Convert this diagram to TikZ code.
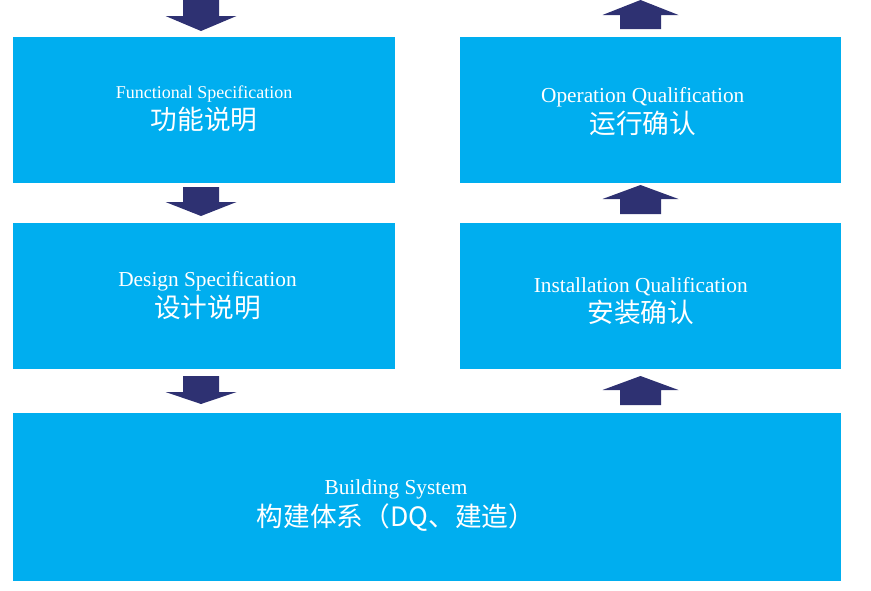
\documentclass[tikz,border=0pt]{standalone}
\usepackage{fontspec}
\setmainfont{Liberation Serif}
\newfontfamily\cjk{Noto Sans CJK SC}
\usetikzlibrary{calc,positioning}
\definecolor{boxblue}{HTML}{00AEEF}
\definecolor{arrownavy}{HTML}{2E3172}
\def\px{0.75pt}
\newcommand{\arrdown}[4]% #1=center x, #2=shaft top, #3=head base
{\fill[arrownavy] ({#1-18},#2) -- ({#1+18},#2) -- ({#1+18},#3) -- ({#1+35.5},#3)% #4=tip
  -- (#1,#4) -- ({#1-35.5},#3) -- ({#1-18},#3) -- cycle;}
\newcommand{\arrup}[4]% #1=center x, #2=tip, #3=head base
{\fill[arrownavy] (#1,#2) -- ({#1+38},#3) -- ({#1+20.5},#3) -- ({#1+20.5},#4)% #4=shaft bottom
  -- ({#1-20.5},#4) -- ({#1-20.5},#3) -- ({#1-38},#3) -- cycle;}
\begin{document}
\begin{tikzpicture}[x=0.75pt,y=-0.75pt,
    box/.style={fill=boxblue,inner sep=0pt,minimum width=382*\px,minimum height=146*\px},
    txt/.style={text=white,align=center,inner sep=0pt}]
    \useasboundingbox (0,0) rectangle (871,590);
    % boxes
    \node[box] (fs) at (204,110) {};
    \node[box,below=29.25pt of fs] (ds) {};
    \node[box,minimum width=381*\px,right=48.5pt of fs] (oq) {};
    \node[box,minimum width=381*\px,below=29.25pt of oq] (iq) {};
    \node[box,minimum width=828*\px,minimum height=168*\px,
        below=33pt of ds.south west,anchor=north west] (bs) {};
    % texts
    \node[txt] (fs-txt) at ($(fs.center)+(0,-1)$)
        {\fontsize{13.5}{16}\selectfont Functional Specification\\[3pt]
         \cjk\fontsize{20}{22}\selectfont 功能说明};
    \node[txt] (ds-txt) at ($(ds.center)+(3.5,0.5)$)
        {\fontsize{16}{18}\selectfont Design Specification\\[2pt]
         \cjk\fontsize{20}{22}\selectfont 设计说明};
    \node[txt] (oq-txt) at ($(oq.center)+(-8,2)$)
        {\fontsize{16}{18}\selectfont Operation Qualification\\[2pt]
         \cjk\fontsize{20}{22}\selectfont 运行确认};
    \node[txt] (iq-txt) at ($(iq.center)+(-10,5.5)$)
        {\fontsize{16}{18}\selectfont Installation Qualification\\[2pt]
         \cjk\fontsize{20}{22}\selectfont 安装确认};
    \node[txt] (bs-txt) at ($(bs.center)+(-31,8.5)$)
        {\fontsize{16}{18}\selectfont Building System\\[2pt]
         \cjk\fontsize{20}{22}\selectfont 构建体系（DQ、建造）};
    % block arrows
    \foreach \a/\b/\c in {0/16/31,187/202/216,376/392/404}
        \arrdown{201}{\a}{\b}{\c};
    \foreach \a/\b/\c in {0/15/29,185/199/214,376/390/405}
        \arrup{640.5}{\a}{\b}{\c};
\end{tikzpicture}
\end{document}
